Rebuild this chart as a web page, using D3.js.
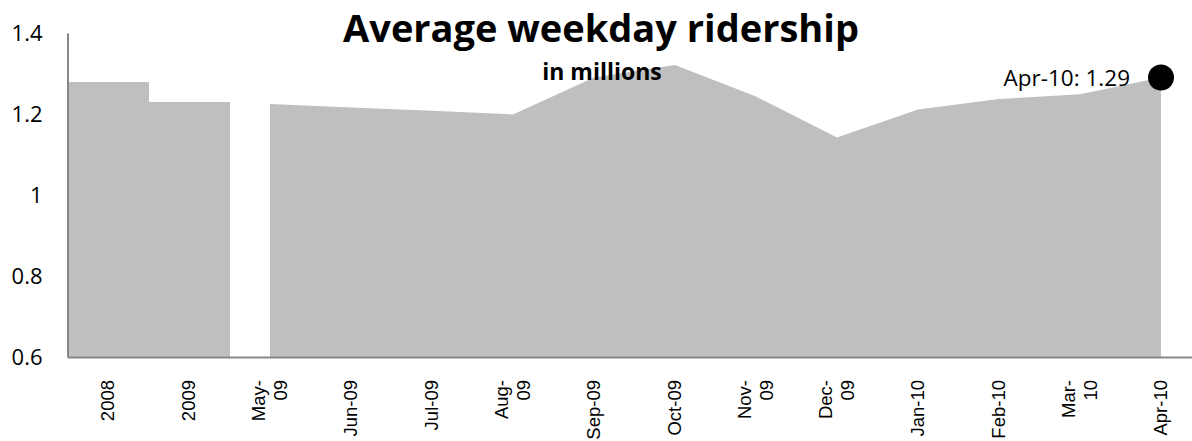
<!DOCTYPE html>
<html>
<head>
<meta charset="utf-8">
<script src="https://cdn.jsdelivr.net/npm/d3@7"></script>
<style>
  html, body { margin: 0; padding: 0; background: #fff; }
  svg { display: block; }
</style>
</head>
<body>
<svg id="chart" width="1192" height="441"></svg>
<script>
// Category axis: two annual averages followed by monthly averages
const categories = ["2008", "2009", "May-09", "Jun-09", "Jul-09", "Aug-09", "Sep-09",
  "Oct-09", "Nov-09", "Dec-09", "Jan-10", "Feb-10", "Mar-10", "Apr-10"];
const tickLabels = ["2008", "2009", "May-\n09", "Jun-09", "Jul-09", "Aug-\n09", "Sep-09",
  "Oct-09", "Nov-\n09", "Dec-\n09", "Jan-10", "Feb-10", "Mar-\n10", "Apr-10"];

// Annual averages (millions of riders)
const annualCats = ["2008", "2009"];
const annualValues = [1.278, 1.230];

// Monthly averages (millions of riders)
const monthlyCats = ["May-09", "Jun-09", "Jul-09", "Aug-09", "Sep-09", "Oct-09",
  "Nov-09", "Dec-09", "Jan-10", "Feb-10", "Mar-10", "Apr-10"];
const monthlyValues = [1.225, 1.216, 1.208, 1.199, 1.290, 1.321,
  1.243, 1.142, 1.211, 1.237, 1.249, 1.290];

const yTicks = [0.6, 0.8, 1.0, 1.2, 1.4];

const svg = d3.select("#chart");
const fill = "#bfbfbf";
const axisColor = "#878787";

const left = 67.5, step = 81;
const x = d3.scalePoint()
  .domain(categories)
  .range([left, left + step * categories.length])
  .padding(0.5);
const y = d3.scaleLinear().domain([0.6, 1.4]).range([357, 33]);

// Annual blocks, one category wide
svg.append("g").selectAll("rect")
  .data(annualCats.map((c, i) => ({ c, v: annualValues[i] })))
  .join("rect")
  .attr("x", d => x(d.c) - x.step() / 2)
  .attr("width", x.step())
  .attr("y", d => y(d.v))
  .attr("height", d => y(0.6) - y(d.v))
  .attr("fill", fill)
  .attr("shape-rendering", "crispEdges");

// Monthly area
const monthly = monthlyCats.map((c, i) => ({ c, v: monthlyValues[i] }));
const area = d3.area()
  .x(d => x(d.c))
  .y0(y(0.6))
  .y1(d => y(d.v));
svg.append("path")
  .datum(monthly)
  .attr("d", area)
  .attr("fill", fill);

// Axes
const yAxis = svg.append("g")
  .attr("transform", `translate(${left},0)`)
  .call(d3.axisLeft(y).tickValues(yTicks).tickSize(0).tickSizeOuter(0)
    .tickPadding(25).tickFormat(d3.format("~g")));
yAxis.select(".domain").attr("stroke", axisColor).attr("stroke-width", 2);
yAxis.selectAll("text")
  .attr("font-family", "'Open Sans', sans-serif")
  .attr("font-size", 22)
  .attr("fill", "#000")
  .attr("dy", "0.36em");

const xAxis = svg.append("g")
  .attr("transform", `translate(0,${y(0.6)})`)
  .call(d3.axisBottom(x).tickSize(0).tickSizeOuter(0).tickFormat(""));
xAxis.select(".domain").attr("stroke", axisColor).attr("stroke-width", 2);

// Rotated category labels
const lineGap = 22;
const labels = svg.append("g").selectAll("text")
  .data(categories.map((c, i) => ({ c, lines: tickLabels[i].split("\n") })))
  .join("text")
  .attr("transform", d => `translate(${x(d.c)},380) rotate(-90)`)
  .attr("text-anchor", "end")
  .attr("font-family", "'Liberation Sans', Arial, sans-serif")
  .attr("font-size", 18.5)
  .attr("fill", "#000");
labels.each(function (d) {
  const n = d.lines.length;
  d3.select(this).selectAll("tspan")
    .data(d.lines)
    .join("tspan")
    .attr("x", 0)
    .attr("y", (t, i) => (i - (n - 1) / 2) * lineGap)
    .attr("dy", "0.35em")
    .text(t => t);
});

// Titles
svg.append("text")
  .attr("x", 601).attr("y", 42)
  .attr("text-anchor", "middle")
  .attr("font-family", "'Open Sans', sans-serif")
  .attr("font-weight", "bold")
  .attr("font-size", 38)
  .text("Average weekday ridership");
svg.append("text")
  .attr("x", 602).attr("y", 80)
  .attr("text-anchor", "middle")
  .attr("font-family", "'Open Sans', sans-serif")
  .attr("font-weight", "bold")
  .attr("font-size", 23)
  .text("in millions");

// Latest value marker and label
const lastCat = monthlyCats[monthlyCats.length - 1];
const lastVal = monthlyValues[monthlyValues.length - 1];
svg.append("circle")
  .attr("cx", x(lastCat))
  .attr("cy", y(lastVal))
  .attr("r", 13)
  .attr("fill", "#000");
svg.append("text")
  .attr("x", x(lastCat) - 31)
  .attr("y", 86)
  .attr("text-anchor", "end")
  .attr("font-family", "'Open Sans', sans-serif")
  .attr("font-size", 22.5)
  .attr("fill", "#000")
  .text(`${lastCat}: ${lastVal.toFixed(2)}`);
</script>
</body>
</html>
